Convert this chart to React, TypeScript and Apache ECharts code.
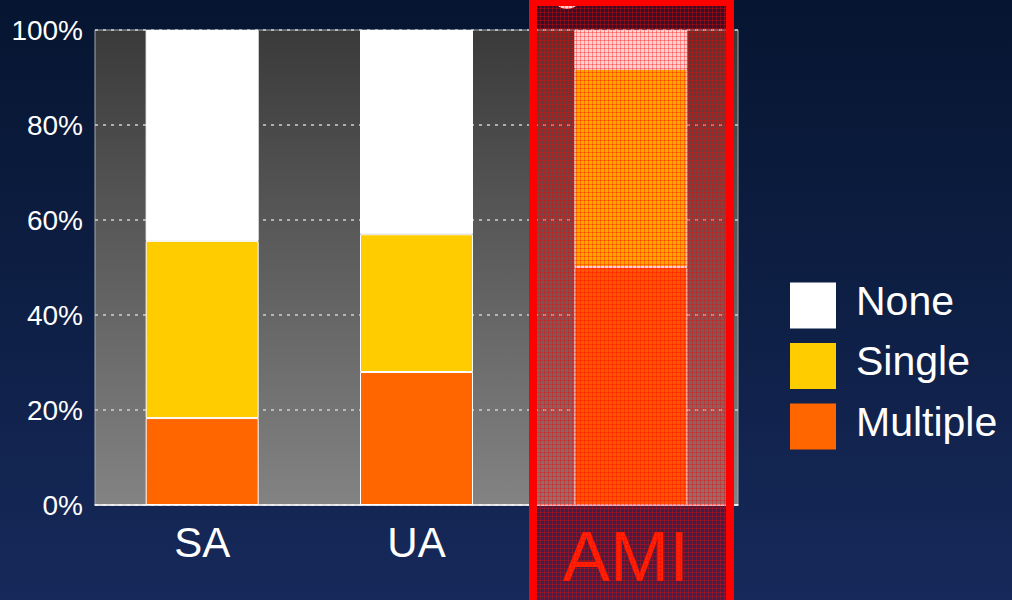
import React, { useEffect, useRef } from "react";
import * as echarts from "echarts";

// Categories and stacked shares (percent of patients)
const categories = ["SA", "UA", "AMI"];
const multipleValues = [18.3, 28.0, 50.1];
const singleValues = [37.3, 29.0, 41.7];
const noneValues = [44.4, 43.0, 8.2];
const seriesNames = ["None", "Single", "Multiple"];
const yTicks = [0, 20, 40, 60, 80, 100];

const FONT = "Liberation Sans, Arial, sans-serif";

// Fine red cross-hatch tile for the highlight overlay
const hatchTile =
  "data:image/svg+xml;charset=utf-8," +
  encodeURIComponent(
    '<svg xmlns="http://www.w3.org/2000/svg" width="4" height="4">' +
      '<rect width="4" height="4" fill="rgba(255,0,0,0.18)"/>' +
      '<rect width="4" height="1" fill="rgba(255,0,0,0.34)"/>' +
      '<rect width="1" height="4" fill="rgba(255,0,0,0.34)"/>' +
      "</svg>"
  );

export default function App() {
  const ref = useRef<HTMLDivElement>(null);

  useEffect(() => {
    document.body.style.margin = "0";
    if (!ref.current) return;
    const chart = echarts.init(ref.current, null, { renderer: "svg" });

    const barStyle = (color: string) => ({
      color,
      borderColor: "#ffffff",
      borderWidth: 1,
    });

    chart.setOption({
      animation: false,
      backgroundColor: new echarts.graphic.LinearGradient(0, 0, 0, 1, [
        { offset: 0, color: "#061530" },
        { offset: 1, color: "#16295a" },
      ]),
      textStyle: { fontFamily: FONT },
      grid: {
        left: 95,
        top: 30,
        width: 643,
        height: 475,
        show: true,
        borderColor: "#a8a8a8",
        borderWidth: 1,
        backgroundColor: new echarts.graphic.LinearGradient(0, 0, 0, 1, [
          { offset: 0, color: "#3a3a3a" },
          { offset: 1, color: "#838383" },
        ]),
      },
      legend: {
        data: seriesNames,
        orient: "vertical",
        left: 790,
        top: 280,
        padding: 0,
        itemWidth: 46,
        itemHeight: 46,
        itemGap: 12,
        icon: "rect",
        itemStyle: { borderWidth: 0 },
        formatter: "{t|{name}}",
        textStyle: {
          color: "#ffffff",
          fontSize: 41,
          fontFamily: FONT,
          rich: {
            t: {
              color: "#ffffff",
              fontSize: 41,
              fontFamily: FONT,
              padding: [0, 0, 10, 15],
            },
          },
        },
        selectedMode: false,
      },
      xAxis: {
        type: "category",
        data: categories,
        axisLine: { lineStyle: { color: "#ffffff", width: 1.5 } },
        axisTick: { show: false },
        axisLabel: {
          color: "#ffffff",
          fontSize: 42,
          fontFamily: FONT,
          margin: 16,
          formatter: (v: string) => (v === "AMI" ? "{hl|" + v + "}" : v),
          rich: {
            hl: {
              color: "#ff2a00",
              fontSize: 71,
              fontFamily: FONT,
              padding: [0, 10, 0, 0],
            },
          },
        },
      },
      yAxis: {
        type: "value",
        min: yTicks[0],
        max: yTicks[yTicks.length - 1],
        interval: 20,
        axisLine: { show: false },
        axisTick: { show: false },
        axisLabel: {
          color: "#ffffff",
          fontSize: 28,
          fontFamily: FONT,
          margin: 12,
          formatter: "{value}%",
        },
        splitLine: {
          lineStyle: { color: "#cfcfcf", type: [3, 5], width: 1.5 },
        },
      },
      series: [
        {
          name: "Multiple",
          type: "bar",
          stack: "total",
          barWidth: 113,
          data: multipleValues,
          itemStyle: barStyle("#ff6600"),
        },
        {
          name: "Single",
          type: "bar",
          stack: "total",
          barWidth: 113,
          data: singleValues,
          itemStyle: barStyle("#ffcc00"),
        },
        {
          name: "None",
          type: "bar",
          stack: "total",
          barWidth: 113,
          data: noneValues,
          itemStyle: barStyle("#ffffff"),
        },
      ],
      graphic: [
        {
          type: "circle",
          shape: { cx: 567, cy: -6, r: 15 },
          style: { fill: "#ffffff" },
          z: 90,
        },
        {
          type: "rect",
          shape: { x: 537, y: 6, width: 190, height: 600 },
          style: {
            fill: {
              image: hatchTile,
              repeat: "repeat",
              imageWidth: 4,
              imageHeight: 4,
            },
          },
          z: 100,
        },
        {
          type: "rect",
          shape: { x: 533, y: 2, width: 197, height: 610 },
          style: { fill: "none", stroke: "#ff0000", lineWidth: 8 },
          z: 101,
        },
      ],
    });

    return () => chart.dispose();
  }, []);

  return <div ref={ref} style={{ width: 1012, height: 600 }} />;
}
